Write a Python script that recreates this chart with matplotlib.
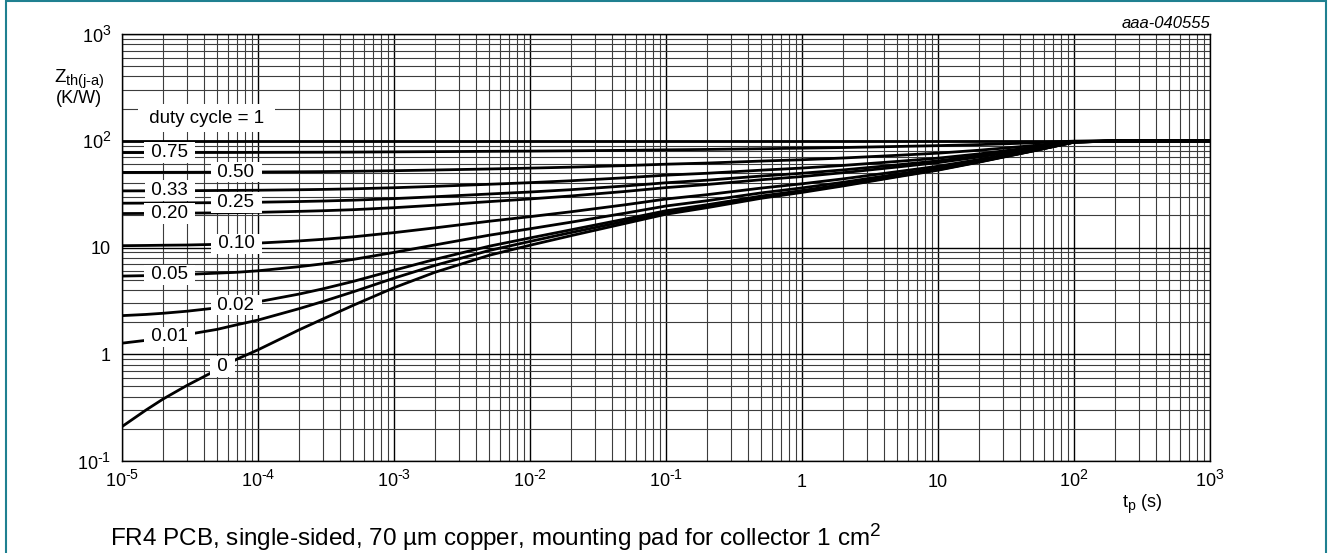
import numpy as np
import matplotlib
matplotlib.use("Agg")
import matplotlib.pyplot as plt
import matplotlib._mathtext as mathtext_impl
from matplotlib.patches import Rectangle
from matplotlib.ticker import LogLocator, NullFormatter, FixedLocator

plt.rcParams['font.family'] = ['Liberation Sans', 'DejaVu Sans']
plt.rcParams['mathtext.fontset'] = 'custom'
plt.rcParams['mathtext.rm'] = 'Liberation Sans'
plt.rcParams['mathtext.it'] = 'Liberation Sans:italic'
plt.rcParams['mathtext.bf'] = 'Liberation Sans:bold'
# larger super/subscripts, closer to the datasheet look
mathtext_impl.SHRINK_FACTOR = 0.78


# =========================
# DATA
# =========================
tp = [1e-5, 1.5e-5, 2e-5, 3e-5, 5e-5, 7e-5, 1e-4, 2e-4, 3e-4, 5e-4,
      1e-3, 2e-3, 5e-3, 1e-2, 2e-2, 5e-2, 0.1, 0.2, 0.5, 1,
      2, 5, 10, 20, 50, 100, 200, 1000]

z_d100 = [100, 100, 100, 100, 100, 100, 100, 100, 100, 100,
          100, 100, 100, 100, 100, 100, 100, 100, 100, 100,
          100, 100, 100, 100, 100, 100, 100, 100]
z_d075 = [77.5, 77.5, 77.55, 77.6, 77.65, 77.7, 77.8, 78.0, 78.1, 78.3,
          78.7, 79.1, 79.6, 80.0, 80.5, 81.3, 82.2, 82.9, 84.2, 85.2,
          86.4, 88.4, 90.0, 92.0, 95.5, 99.2, 99.9, 100]
z_d050 = [50.5, 50.55, 50.6, 50.65, 50.75, 50.85, 50.95, 51.2, 51.4, 51.75,
          52.4, 53.2, 54.4, 55.4, 56.6, 58.5, 60.3, 61.8, 64.5, 66.4,
          68.9, 73.0, 76.5, 81.5, 90.1, 98.5, 99.75, 100]
z_d033 = [33.9, 33.95, 34.0, 34.05, 34.2, 34.3, 34.4, 34.75, 35.0, 35.45,
          36.3, 37.4, 39.1, 40.5, 42.2, 45.0, 47.6, 49.6, 53.0, 55.5,
          58.7, 64.0, 68.7, 75.3, 86.8, 98.0, 99.7, 100]
z_d025 = [26.0, 26.05, 26.1, 26.2, 26.3, 26.4, 26.55, 26.95, 27.25, 27.75,
          28.7, 29.9, 31.7, 33.1, 34.8, 37.7, 40.4, 42.7, 46.7, 49.6,
          53.3, 59.4, 64.8, 72.3, 85.2, 97.8, 99.6, 100]
z_d020 = [20.8, 20.85, 20.9, 21.0, 21.1, 21.2, 21.35, 21.8, 22.1, 22.6,
          23.6, 24.9, 26.9, 28.5, 30.4, 33.5, 36.4, 38.9, 43.1, 46.2,
          50.2, 56.7, 62.4, 70.4, 84.2, 97.6, 99.6, 100]
z_d010 = [10.4, 10.45, 10.5, 10.55, 10.7, 10.81, 10.99, 11.52, 11.93, 12.58,
          13.78, 15.27, 17.61, 19.45, 21.61, 25.12, 28.45, 31.24, 36.01, 39.52,
          43.93, 51.31, 57.7, 66.7, 82.18, 97.3, 99.55, 100]
z_d005 = [5.4, 5.45, 5.5, 5.6, 5.75, 5.86, 6.05, 6.61, 7.03, 7.73,
          8.99, 10.57, 13.03, 14.98, 17.26, 20.96, 24.48, 27.42, 32.46, 36.16,
          40.82, 48.61, 55.35, 64.85, 81.19, 97.15, 99.5, 100]
z_d002 = [2.3, 2.36, 2.42, 2.53, 2.72, 2.9, 3.1, 3.66, 4.1, 4.81,
          6.12, 7.74, 10.28, 12.29, 14.64, 18.46, 22.09, 25.13, 30.32, 34.14,
          38.95, 46.98, 53.94, 63.74, 80.6, 97.06, 99.5, 100]
z_d001 = [1.27, 1.35, 1.42, 1.53, 1.71, 1.89, 2.09, 2.67, 3.12, 3.84,
          5.16, 6.8, 9.37, 11.4, 13.8, 17.6, 21.3, 24.4, 29.6, 33.5,
          38.3, 46.4, 53.5, 63.4, 80.4, 97.0, 99.5, 100]
z_d000 = [0.21, 0.30, 0.38, 0.51, 0.715, 0.9, 1.1, 1.69, 2.14, 2.87,
          4.2, 5.86, 8.45, 10.5, 12.9, 16.8, 20.5, 23.6, 28.9, 32.8,
          37.7, 45.9, 53.0, 63.0, 80.2, 97.0, 99.5, 100]

curves = [z_d100, z_d075, z_d050, z_d033, z_d025, z_d020,
          z_d010, z_d005, z_d002, z_d001, z_d000]
curve_labels = [None, '0.75', '0.50', '0.33', '0.25', '0.20',
                '0.10', '0.05', '0.02', '0.01', '0']

x_ticks = [1e-5, 1e-4, 1e-3, 1e-2, 1e-1, 1, 10, 100, 1000]
x_ticklabels = [r'$\mathregular{10^{\text{-}5}}$', r'$\mathregular{10^{\text{-}4}}$',
                r'$\mathregular{10^{\text{-}3}}$', r'$\mathregular{10^{\text{-}2}}$',
                r'$\mathregular{10^{\text{-}1}}$', '1', '10',
                r'$\mathregular{10^{2}}$', r'$\mathregular{10^{3}}$']
y_ticks = [0.1, 1, 10, 100, 1000]
y_ticklabels = [r'$\mathregular{10^{\text{-}1}}$', '1', '10',
                r'$\mathregular{10^{2}}$', r'$\mathregular{10^{3}}$']

# label x-positions along the curves (layout)
label_x = [None, 2.25e-5, 6.9e-5, 2.25e-5, 6.9e-5, 2.25e-5,
           6.9e-5, 2.25e-5, 6.9e-5, 2.25e-5, 5.5e-5]


# =========================
# FIGURE
# =========================
W, H = 1328, 553
fig = plt.figure(figsize=(W / 100, H / 100), dpi=100)
ax = fig.add_axes([122 / W, 1 - 461 / H, (1210 - 122) / W, (461 - 34) / H])

for z in curves:
    ax.plot(tp, z, color='black', lw=2.0, solid_capstyle='butt',
            solid_joinstyle='round', zorder=3)

ax.set_xscale('log')
ax.set_yscale('log')
ax.set_xlim(1e-5, 1e3)
ax.set_ylim(0.1, 1000)

ax.xaxis.set_major_locator(FixedLocator(x_ticks))
ax.yaxis.set_major_locator(FixedLocator(y_ticks))
ax.xaxis.set_minor_locator(LogLocator(base=10, subs=np.arange(2, 10), numticks=20))
ax.yaxis.set_minor_locator(LogLocator(base=10, subs=np.arange(2, 10), numticks=20))
ax.xaxis.set_minor_formatter(NullFormatter())
ax.yaxis.set_minor_formatter(NullFormatter())
ax.set_xticklabels(x_ticklabels)
ax.set_yticklabels(y_ticklabels)

ax.tick_params(which='both', length=0, labelsize=13)
ax.tick_params(axis='x', pad=18.5)
ax.tick_params(axis='y', pad=8)
for lab in ax.get_xticklabels():
    lab.set_verticalalignment('baseline')

ax.grid(True, which='major', color='black', lw=1.0, zorder=1)
ax.grid(True, which='minor', color='#3c3c3c', lw=0.8, zorder=1)
for s in ax.spines.values():
    s.set_color('black')
    s.set_linewidth(1.0)

# curve labels
box = dict(boxstyle='square,pad=0.1', fc='white', ec='none')
ltp = np.log10(tp)
for z, lab, lx in zip(curves, curve_labels, label_x):
    if lab is None:
        continue
    ly = 10 ** np.interp(np.log10(lx), ltp, np.log10(z))
    ax.text(lx, ly, ' ' + lab + ' ', ha='center', va='center',
            fontsize=13.5, bbox=box, zorder=5)

ax.text(4.18e-5, 163, ' duty cycle = 1 ', ha='center', va='center',
        fontsize=13.5, zorder=5,
        bbox=dict(boxstyle='square,pad=0.3', fc='white', ec='none'))

# axis titles
fig.text(79 / W, 1 - 82 / H, r'$\mathregular{Z_{th(j\text{-}a)}}$',
         ha='center', va='baseline', fontsize=13.5)
fig.text(79 / W, 1 - 103 / H, '(K/W)', ha='center', va='baseline', fontsize=13)
fig.text(1122 / W, 1 - 507 / H, r'$\mathregular{t_p}$ (s)',
         ha='left', va='baseline', fontsize=13)
fig.text(1210 / W, 1 - 28 / H, 'aaa-040555', ha='right', va='baseline',
         fontsize=12, style='italic')
fig.text(110 / W, 1 - 546 / H,
         r'FR4 PCB, single-sided, 70 µm copper, mounting pad for collector 1 cm$^{2}$',
         ha='left', va='baseline', fontsize=17.5)

# frame around figure
fig.patches.append(Rectangle((5.5 / W, -0.05), (1326 - 5.5) / W, 1.05 - 1.5 / H,
                             transform=fig.transFigure, fill=False,
                             ec='#1f8090', lw=1.5, zorder=10))

fig.savefig('out.png', dpi=100)
